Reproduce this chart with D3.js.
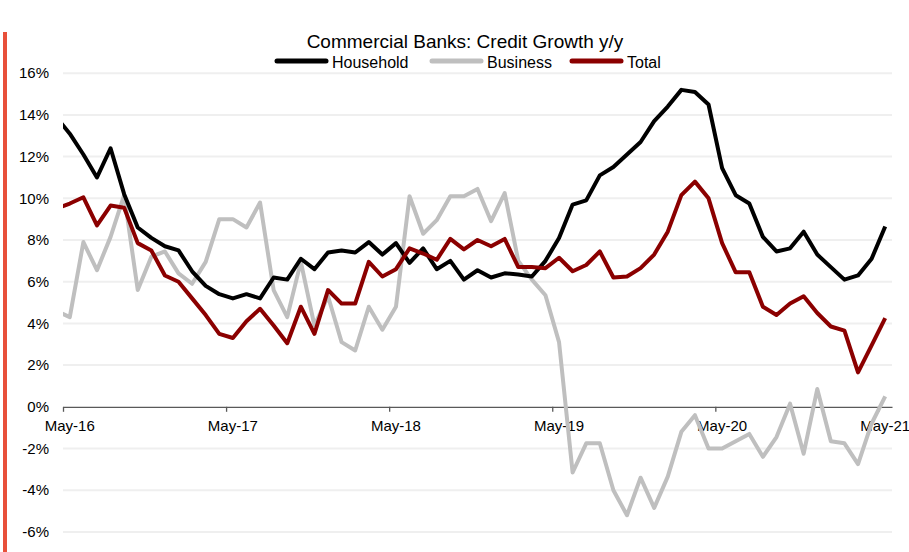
<!DOCTYPE html>
<html>
<head>
<meta charset="utf-8">
<script src="https://cdn.jsdelivr.net/npm/d3@7"></script>
<style>
  body { margin: 0; background: #fff; }
  svg { font-family: "Liberation Sans", Arial, sans-serif; }
</style>
</head>
<body>
<svg id="chart" width="909" height="552"></svg>
<script>
// Months Apr-16 .. May-21 (Apr-16 sits just left of the axis and is clipped)
const months = d3.timeMonths(new Date(2016, 3, 1), new Date(2021, 5, 1)).map(d3.timeFormat("%b-%y"));

const household = [13.9, 13.1, 12.1, 11.0, 12.4, 10.2, 8.6, 8.1, 7.7, 7.5, 6.5, 5.8, 5.4,
  5.2, 5.4, 5.2, 6.2, 6.1, 7.1, 6.6, 7.4, 7.5, 7.4, 7.9, 7.3,
  7.85, 6.9, 7.6, 6.6, 7.0, 6.1, 6.55, 6.2, 6.4, 6.35, 6.25, 7.0,
  8.1, 9.7, 9.9, 11.1, 11.5, 12.1, 12.7, 13.7, 14.4, 15.2, 15.1, 14.5,
  11.45, 10.15, 9.75, 8.15, 7.45, 7.6, 8.4, 7.3, 6.7, 6.1, 6.3, 7.1,
  8.65];

const business = [4.6, 4.3, 7.9, 6.55, 8.15, 10.15, 5.6, 7.2, 7.45, 6.4, 5.9, 6.95, 9.0,
  9.0, 8.6, 9.8, 5.6, 4.3, 6.95, 3.9, 5.3, 3.1, 2.7, 4.8, 3.7,
  4.8, 10.1, 8.3, 8.95, 10.1, 10.1, 10.45, 8.9, 10.25, 7.0, 6.1, 5.35,
  3.1, -3.15, -1.75, -1.75, -4.0, -5.2, -3.4, -4.85, -3.35, -1.2, -0.4, -2.0,
  -2.0, -1.65, -1.3, -2.4, -1.45, 0.15, -2.25, 0.85, -1.65, -1.75, -2.75, -0.8,
  0.5];

const total = [9.5, 9.75, 10.05, 8.7, 9.65, 9.55, 7.85, 7.5, 6.3, 6.0, 5.2, 4.4, 3.5,
  3.3, 4.1, 4.7, 3.9, 3.05, 4.8, 3.5, 5.6, 4.95, 4.95, 6.95, 6.25,
  6.6, 7.6, 7.35, 7.05, 8.05, 7.55, 8.0, 7.7, 8.05, 6.7, 6.7, 6.65,
  7.15, 6.5, 6.8, 7.45, 6.2, 6.25, 6.65, 7.3, 8.4, 10.15, 10.8, 10.0,
  7.85, 6.45, 6.45, 4.8, 4.4, 4.95, 5.3, 4.5, 3.85, 3.65, 1.65, 2.95,
  4.25];

const seriesNames = ["Household", "Business", "Total"];
const seriesColors = ["#000000", "#bfbfbf", "#8b0000"];
const yTicks = [-6, -4, -2, 0, 2, 4, 6, 8, 10, 12, 14, 16];
const xTickLabels = ["May-16", "May-17", "May-18", "May-19", "May-20", "May-21"];

const svg = d3.select("#chart");
const margin = {left: 63, right: 17, top: 73, bottom: 20};
const plotRight = 909 - margin.right;

// x: linear over slot index, May-16 = slot 0, 61 slots to May-21
const x = d3.scaleLinear().domain([0, 61]).range([margin.left, plotRight]);
const y = d3.scaleLinear().domain([-6, 16]).range([531.9, 73.2]);
const idx = i => i - 1; // months[0] is Apr-16
const px = i => x(idx(i) + 0.5);

// red accent bar on the left
svg.append("rect").attr("x", 3).attr("y", 32).attr("width", 4).attr("height", 520)
  .attr("fill", "#e8503a");

// gridlines
svg.append("g").selectAll("line")
  .data(yTicks.filter(t => t !== 0))
  .join("line")
  .attr("x1", margin.left).attr("x2", plotRight)
  .attr("y1", d => y(d)).attr("y2", d => y(d))
  .attr("stroke", "#efefef").attr("stroke-width", 2);

// y axis labels
svg.append("g").selectAll("text")
  .data(yTicks)
  .join("text")
  .attr("x", 49).attr("y", d => y(d)).attr("dy", "0.35em")
  .attr("text-anchor", "end").attr("font-size", 15).attr("fill", "#000")
  .text(d => d + "%");

// x axis at 0%
const xAxis = d3.axisBottom(x)
  .tickValues([0, 12, 24, 36, 48, 60])
  .tickSize(5).tickSizeOuter(0).tickFormat("");
const xAxisG = svg.append("g").attr("transform", `translate(0,${y(0)})`).call(xAxis);
xAxisG.select(".domain").attr("stroke", "#595959").attr("stroke-width", 1.3);
xAxisG.selectAll(".tick line").attr("stroke", "#595959").attr("stroke-width", 1.3);

svg.append("g").selectAll("text")
  .data(xTickLabels)
  .join("text")
  .attr("x", (d, i) => x(i * 12 + 0.5)).attr("y", y(0) + 18.5).attr("dy", "0.35em")
  .attr("text-anchor", "middle").attr("font-size", 15).attr("fill", "#000")
  .text(d => d);

// lines, clipped to the plot width
svg.append("clipPath").attr("id", "clip")
  .append("rect").attr("x", margin.left).attr("y", 0)
  .attr("width", plotRight - margin.left).attr("height", 552);

const line = d3.line().x((d, i) => px(i)).y(d => y(d));
const allSeries = [household, business, total];
const drawOrder = [1, 0, 2];
svg.append("g").attr("clip-path", "url(#clip)")
  .selectAll("path")
  .data(drawOrder)
  .join("path")
  .attr("d", k => line(allSeries[k]))
  .attr("fill", "none")
  .attr("stroke", k => seriesColors[k])
  .attr("stroke-width", 4)
  .attr("stroke-linejoin", "round");

// title
svg.append("text").attr("x", 465).attr("y", 48)
  .attr("text-anchor", "middle").attr("font-size", 19).attr("fill", "#000")
  .text("Commercial Banks: Credit Growth y/y");

// legend
const legendX = [277, 432, 572];
const legend = svg.append("g").selectAll("g")
  .data(seriesNames)
  .join("g")
  .attr("transform", (d, i) => `translate(${legendX[i]},61)`);
legend.append("line")
  .attr("x1", 0).attr("x2", 49).attr("y1", 0).attr("y2", 0)
  .attr("stroke", (d, i) => seriesColors[i]).attr("stroke-width", 5)
  .attr("stroke-linecap", "round");
legend.append("text")
  .attr("x", 55).attr("y", 1).attr("dy", "0.35em")
  .attr("font-size", 16).attr("fill", "#000")
  .text(d => d);
</script>
</body>
</html>
